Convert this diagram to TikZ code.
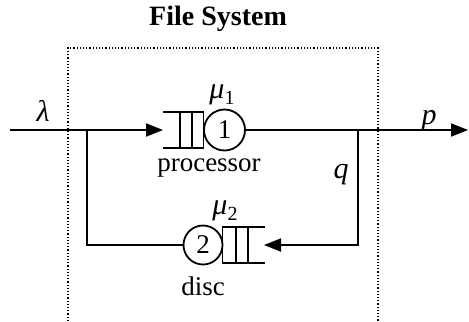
\documentclass[tikz,border=0pt]{standalone}
\usepackage{fontspec}
\setmainfont{Liberation Serif}
\usetikzlibrary{arrows.meta}
\newcommand{\musub}[1]{{\itshape μ}\raisebox{-0.45ex}{\fontsize{10}{10}\selectfont #1}}
\begin{document}
\begin{tikzpicture}[x=0.5pt,y=-0.5pt,
  flow/.style={line width=0.9pt},
  arr/.style={flow,-{Triangle[length=8.5pt,width=6.5pt]}},
  server/.style={circle,draw,line width=0.9pt,inner sep=0pt},
  lbl/.style={inner sep=0pt,font=\fontsize{13.5}{16}\selectfont},
  boxline/.style={line width=0.6pt,densely dotted}]
\useasboundingbox (0,0) rectangle (469,321);
% title and dotted box
\node[lbl,font=\fontsize{14}{17}\selectfont\bfseries] (title) at (218,19) {File System};
\draw[boxline] (68,321) -- (68,48) -- (378,48) -- (378,321);
% server 1 and its queue
\node[server,minimum size=20.5pt,font=\fontsize{13.5}{16}\selectfont] (s1) at (224.5,130) {1};
\coordinate (q1in) at (163,130);
\draw[flow] (163,112) -- (203.5,112) -- (203.5,148) -- (163,148);
\draw[flow] (180,112) -- (180,148) (192,112) -- (192,148);
% server 2 and its queue
\node[server,minimum size=19.5pt,font=\fontsize{13.5}{16}\selectfont] (s2) at (203,245) {2};
\coordinate (q2in) at (264,245);
\draw[flow] (265,227) -- (222.5,227) -- (222.5,263) -- (265,263);
\draw[flow] (236,227) -- (236,263) (248,227) -- (248,263);
% connectors
\coordinate (in) at (10,130);
\coordinate (out) at (468,130);
\coordinate (jl) at (87,130);
\coordinate (jr) at (358,130);
\draw[arr] (in) -- (q1in);
\draw[arr] (s1.east) -- (out);
\draw[arr] (jr) |- (q2in);
\draw[flow] (s2.west) -| (jl);
% labels
\node[lbl,font=\fontsize{15}{17}\selectfont\itshape] (lam) at (43,111) {λ};
\node[lbl,font=\fontsize{15}{17}\selectfont\itshape] (p) at (429,121) {p};
\node[lbl,font=\fontsize{15}{17}\selectfont] (mu1) at (222,95) {\musub{1}};
\node[lbl] (proc) at (209,168) {processor};
\node[lbl,font=\fontsize{15}{17}\selectfont\itshape] (q) at (341,175) {q};
\node[lbl,font=\fontsize{15}{17}\selectfont] (mu2) at (225,211) {\musub{2}};
\node[lbl] (disc) at (203,286) {disc};
\end{tikzpicture}
\end{document}
